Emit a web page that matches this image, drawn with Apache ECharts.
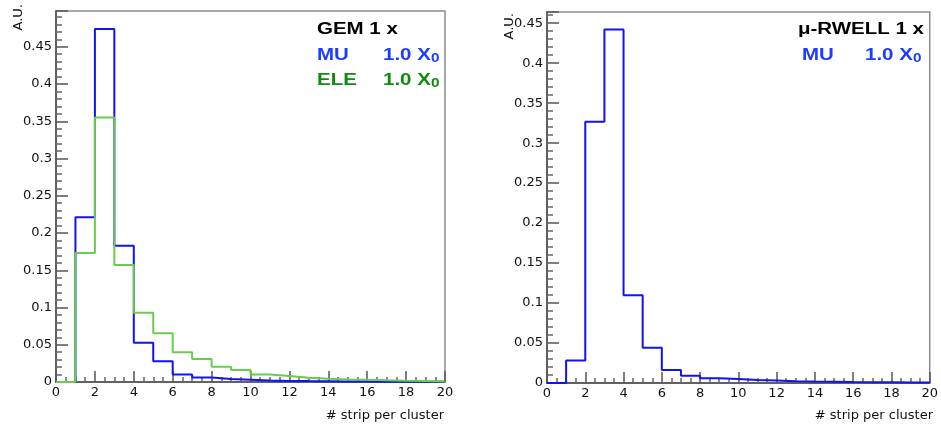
<!DOCTYPE html>
<html>
<head>
<meta charset="utf-8">
<title>Strips per cluster</title>
<script src="https://cdn.jsdelivr.net/npm/echarts@6/dist/echarts.min.js"></script>
<style>
  html, body { margin: 0; padding: 0; background: #ffffff; }
  #chart { width: 941px; height: 430px; }
</style>
</head>
<body>
<div id="chart"></div>
<script>
// Bin edges: unit-width bins from 0 to 20 strips
const binEdges = [0, 1, 2, 3, 4, 5, 6, 7, 8, 9, 10, 11, 12, 13, 14, 15, 16, 17, 18, 19, 20];
const xTicks = [0, 2, 4, 6, 8, 10, 12, 14, 16, 18, 20];

// GEM 1 x, muons at 1.0 X0 (normalised contents per bin)
const gemMu = [0, 0.221, 0.474, 0.183, 0.0527, 0.028, 0.0102, 0.0062, 0.004, 0.003,
               0.002, 0.0015, 0.0012, 0.001, 0.0008, 0.0006, 0.0005, 0.0004, 0.0003, 0.0002];
// GEM 1 x, electrons at 1.0 X0
const gemEle = [0, 0.1733, 0.355, 0.157, 0.093, 0.0656, 0.040, 0.031, 0.0205, 0.016,
                0.010, 0.008, 0.0058, 0.0045, 0.0035, 0.003, 0.0022, 0.0016, 0.0012, 0.0008];
// mu-RWELL 1 x, muons at 1.0 X0
const rwellMu = [0, 0.028, 0.3267, 0.442, 0.1096, 0.0442, 0.0163, 0.0092, 0.0058, 0.005,
                 0.0037, 0.003, 0.0022, 0.0018, 0.0015, 0.0012, 0.001, 0.0008, 0.0006, 0.0005];

// Vertical ranges of the two frames
const gemYMax = 0.498;
const rwellYMax = 0.464;

const BLUE_LINE = '#1212f2';
const GREEN_LINE = '#6acb4c';
const BLUE_TEXT = '#1e3cff';
const GREEN_TEXT = '#0f8c0f';

// Step outline: each bin's left edge carries its content, last edge closes the bin
function histPoints(values) {
  const pts = values.map((v, i) => [binEdges[i], v]);
  pts.push([binEdges[binEdges.length - 1], values[values.length - 1]]);
  return pts;
}

function yLabel(v) {
  const r = Math.round(v * 100);
  if (Math.abs(v * 100 - r) > 1e-6 || r % 5 !== 0) return '';
  return String(r / 100);
}

const labelFont = { fontFamily: 'DejaVu Sans', fontSize: 13, color: '#111' };

function xAxisFor(gridIndex) {
  return {
    type: 'value', gridIndex, min: 0, max: 20, interval: 2,
    axisLine: { show: true, onZero: false, lineStyle: { color: '#4a4a4a', width: 1.5 } },
    axisTick: { show: true, inside: true, length: 11, lineStyle: { color: '#555', width: 1.5 } },
    minorTick: { show: true, splitNumber: 4, length: 5, lineStyle: { color: '#666', width: 1.5 } },
    splitLine: { show: false },
    axisLabel: Object.assign({ margin: 4, formatter: v => (xTicks.indexOf(v) >= 0 ? String(v) : '') }, labelFont)
  };
}

function yAxisFor(gridIndex, max) {
  return {
    type: 'value', gridIndex, min: 0, max: max, interval: 0.05,
    axisLine: { show: true, lineStyle: { color: '#4a4a4a', width: 1.5 } },
    axisTick: { show: true, inside: true, length: 12, lineStyle: { color: '#555', width: 1.5 } },
    minorTick: { show: true, splitNumber: 5, length: 6, lineStyle: { color: '#666', width: 1.5 } },
    splitLine: { show: false },
    axisLabel: Object.assign({ margin: 4, showMaxLabel: false, formatter: yLabel }, labelFont)
  };
}

function histSeries(values, color, xi, z) {
  return {
    type: 'line', xAxisIndex: xi, yAxisIndex: xi, step: 'end',
    data: histPoints(values), showSymbol: false, symbol: 'none',
    lineStyle: { color: color, width: 2 }, z: z, silent: true, animation: false
  };
}

// Bold, horizontally widened annotation text
function note(x, y, text, color, size) {
  return {
    type: 'text', x: x, y: y, scaleX: 1.28, silent: true,
    style: { text: text, fill: color, font: 'bold ' + (size || 16) + 'px "Liberation Sans", Arial, sans-serif',
             align: 'left', verticalAlign: 'middle' }
  };
}

function plainText(x, y, text, align, rotation) {
  return {
    type: 'text', x: x, y: y, rotation: rotation || 0, silent: true,
    style: { text: text, fill: '#111', font: '13px "DejaVu Sans", sans-serif',
             align: align, verticalAlign: 'middle' }
  };
}

const chart = echarts.init(document.getElementById('chart'), null, { renderer: 'canvas' });
chart.setOption({
  backgroundColor: '#ffffff',
  animation: false,
  grid: [
    { left: 56, top: 11, right: 496, bottom: 48, show: true, borderColor: '#8c8c8c', borderWidth: 1.5, containLabel: false },
    { left: 547, top: 12, right: 7, bottom: 47, show: true, borderColor: '#8c8c8c', borderWidth: 1.5, containLabel: false }
  ],
  xAxis: [xAxisFor(0), xAxisFor(1)],
  yAxis: [yAxisFor(0, gemYMax), yAxisFor(1, rwellYMax)],
  series: [
    histSeries(gemMu, BLUE_LINE, 0, 2),
    histSeries(gemEle, GREEN_LINE, 0, 3),
    histSeries(rwellMu, BLUE_LINE, 1, 2)
  ],
  graphic: [
    // left panel annotations
    note(317, 30, 'GEM 1 x', '#000'),
    note(317, 56, 'MU', BLUE_TEXT),
    note(383, 56, '1.0 X', BLUE_TEXT),
    note(431, 59, '0', BLUE_TEXT, 12),
    note(317, 81, 'ELE', GREEN_TEXT),
    note(383, 81, '1.0 X', GREEN_TEXT),
    note(431, 84, '0', GREEN_TEXT, 12),
    // right panel annotations
    note(798, 30, '\u03bc-RWELL 1 x', '#000'),
    note(802, 56, 'MU', BLUE_TEXT),
    note(865, 56, '1.0 X', BLUE_TEXT),
    note(913, 59, '0', BLUE_TEXT, 12),
    // axis titles
    plainText(444, 416, '# strip per cluster', 'right'),
    plainText(933, 416, '# strip per cluster', 'right'),
    plainText(19, 4, 'A.U.', 'right', Math.PI / 2),
    plainText(510, 13, 'A.U.', 'right', Math.PI / 2)
  ]
});
</script>
</body>
</html>
